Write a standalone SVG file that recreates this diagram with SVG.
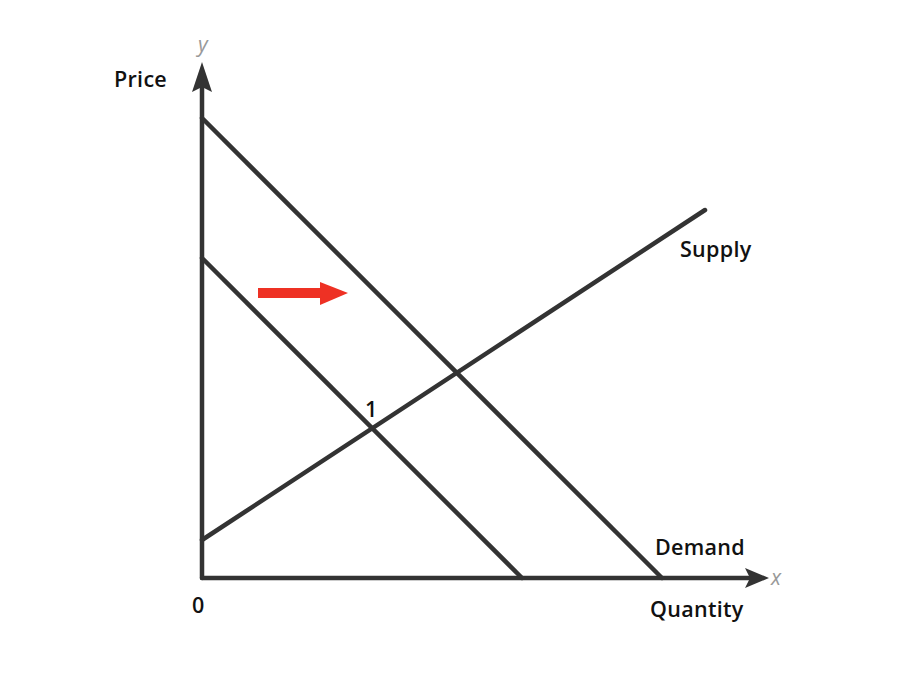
<svg xmlns="http://www.w3.org/2000/svg" width="900" height="675" viewBox="0 0 900 675">
<style>
.ln{stroke:#333;stroke-width:4.5;fill:none;stroke-linecap:round}
.lbl{font-family:"Open Sans",Lato,sans-serif;font-weight:600;font-size:21.5px;letter-spacing:0.3px;fill:#111}
.ax{font-family:"Open Sans",sans-serif;font-style:italic;font-size:21px;fill:#999}
</style>
<rect width="900" height="675" fill="#fff"/>
<g id="connectors">
<line class="ln" x1="202" y1="578" x2="202" y2="86" stroke-linecap="butt"/>
<polygon points="202,62 212,92 202,87 192,92" fill="#333"/>
<line class="ln" x1="202" y1="578" x2="750" y2="578" stroke-linecap="butt"/>
<polygon points="769,578 745,588 750,578 745,568" fill="#333"/>
<line id="demand2" class="ln" x1="202" y1="118" x2="662" y2="578"/>
<line id="demand1" class="ln" x1="202" y1="258" x2="522" y2="578"/>
<line id="supply" class="ln" x1="202" y1="540" x2="705" y2="210"/>
<g id="shift-arrow">
<rect x="258" y="288" width="64" height="10" fill="#ee3124"/>
<polygon points="320,282 348,293 320,305" fill="#ee3124"/>
</g>
</g>
<g id="labels">
<text class="ax" x="198" y="52">y</text>
<text class="ax" x="771" y="585">x</text>
<text class="lbl" x="114" y="87">Price</text>
<text class="lbl" x="680" y="257">Supply</text>
<text class="lbl" x="655" y="555">Demand</text>
<text class="lbl" x="650" y="617">Quantity</text>
<text class="lbl" x="192" y="613">0</text>
<text class="lbl" x="365" y="417">1</text>
</g>
</svg>
